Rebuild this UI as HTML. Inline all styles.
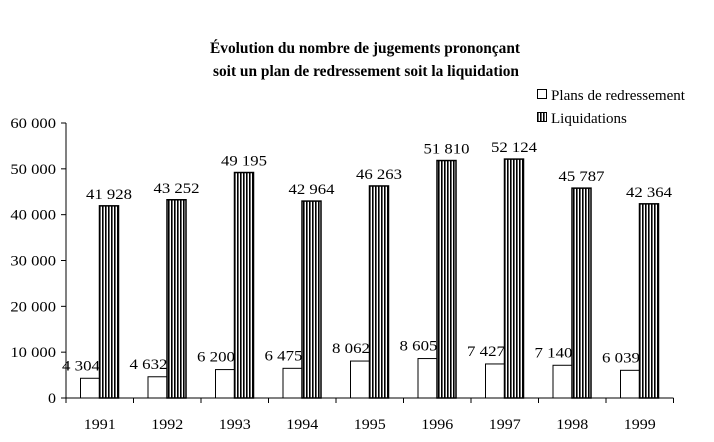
<!DOCTYPE html>
<html><head><meta charset="utf-8"><style>
body{margin:0;background:#fff;}
svg{display:block;font-family:"Liberation Serif",serif;}
</style></head><body>
<svg width="714" height="442" viewBox="0 0 714 442">
<defs><pattern id="vh" patternUnits="userSpaceOnUse" width="3" height="10"><rect width="3" height="10" fill="#fff"/><rect x="0" width="1.6" height="10" fill="#000"/></pattern></defs>
<text x="365" y="53" text-anchor="middle" font-size="15.5" font-weight="bold" textLength="310" lengthAdjust="spacingAndGlyphs">Évolution du nombre de  jugements prononçant</text>
<text x="366" y="76" text-anchor="middle" font-size="15.5" font-weight="bold" textLength="306" lengthAdjust="spacingAndGlyphs">soit un plan de redressement soit la liquidation</text>
<g>
<rect x="537.5" y="89.5" width="9" height="9" fill="#fff" stroke="#000"/>
<text x="551" y="100" font-size="15" textLength="134" lengthAdjust="spacingAndGlyphs">Plans de redressement</text>
<rect x="537.5" y="112.5" width="9" height="9" fill="url(#vh)" stroke="#000"/>
<text x="551" y="123" font-size="15">Liquidations</text>
</g>
<g id="plot"></g>
</svg>
<script>
const years=["1991","1992","1993","1994","1995","1996","1997","1998","1999"];
const plans=[4304,4632,6200,6475,8062,8605,7427,7140,6039];
const liquidations=[41928,43252,49195,42964,46263,51810,52124,45787,42364];
const yTicks=[0,10000,20000,30000,40000,50000,60000];
const X0=66,CW=67.5,Y0=398,YMAX=60000,YH=275;
const y=v=>Y0-v/YMAX*YH;
const fmt=v=>String(v).replace(/\B(?=(\d{3})+(?!\d))/g," ");
const g=document.getElementById('plot');
const NS="http://www.w3.org/2000/svg";
function mk(t,a,txt){const e=document.createElementNS(NS,t);for(const k in a)e.setAttribute(k,a[k]);if(txt!=null)e.textContent=txt;g.appendChild(e);return e;}
yTicks.forEach(v=>{
const t=mk('line',{x1:X0-5,x2:X0,y1:y(v),y2:y(v),stroke:'#000'});


const s=fmt(v);
const l=mk('text',{x:X0-10,y:y(v)+5,'text-anchor':'end','font-size':15,textLength:s.length>1?s.length*7.6:8,lengthAdjust:'spacingAndGlyphs'},s);


});
years.forEach((yr,i)=>{
const cx=X0+CW*i;
const tk=mk('line',{x1:cx+CW,x2:cx+CW,y1:Y0,y2:Y0+5,stroke:'#000'});


const xl=mk('text',{x:cx+CW/2,y:Y0+31,'text-anchor':'middle','font-size':15,textLength:32,lengthAdjust:'spacingAndGlyphs'},yr);


const b1=mk('rect',{x:cx+14.5,y:y(plans[i]),width:19,height:Y0-y(plans[i]),fill:'#fff',stroke:'#000'});


const b2=mk('rect',{x:cx+33.5,y:y(liquidations[i]),width:19,height:Y0-y(liquidations[i]),fill:'url(#vh)',stroke:'#000','stroke-width':1.5});


const l1=mk('text',{x:cx+15,y:y(plans[i])-8,'text-anchor':'middle','font-size':15,textLength:38,lengthAdjust:'spacingAndGlyphs'},fmt(plans[i]));


const l2=mk('text',{x:cx+43,y:y(liquidations[i])-7,'text-anchor':'middle','font-size':15,textLength:46,lengthAdjust:'spacingAndGlyphs'},fmt(liquidations[i]));


});
const ya=mk('line',{x1:X0,x2:X0,y1:y(YMAX),y2:Y0,stroke:'#000'});


const xa=mk('line',{x1:X0-5,x2:X0+CW*years.length,y1:Y0,y2:Y0,stroke:'#000'});


const t0=mk('line',{x1:X0,x2:X0,y1:Y0,y2:Y0+5,stroke:'#000'});


</script>
</body></html>
